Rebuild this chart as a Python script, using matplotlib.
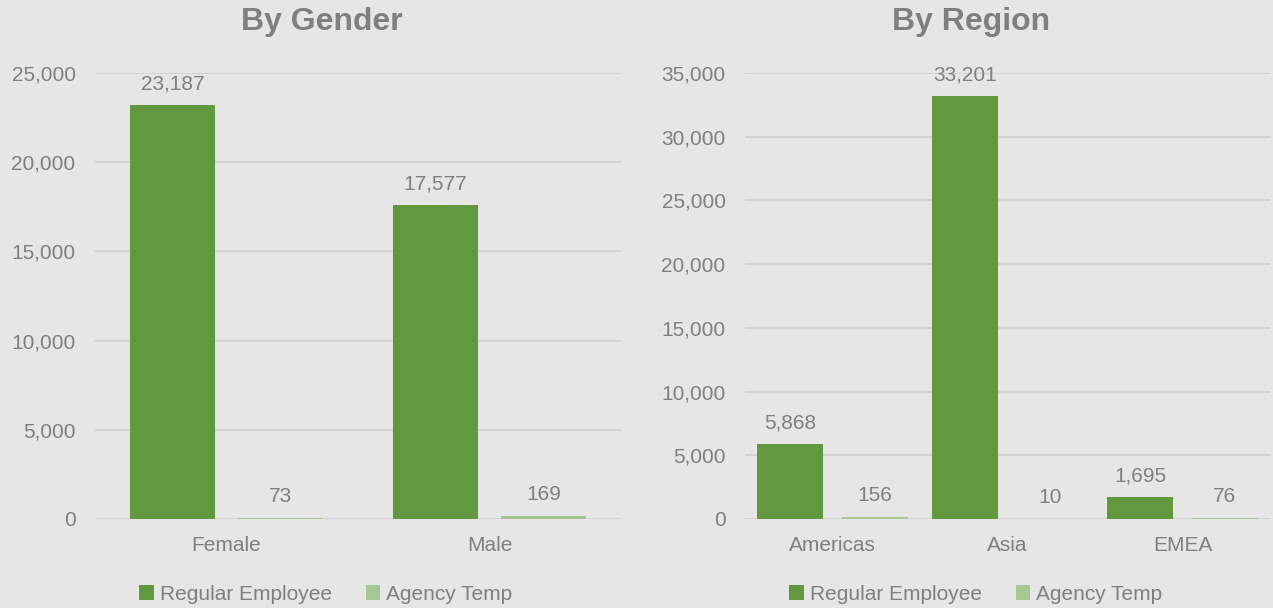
import matplotlib
matplotlib.use("Agg")
from matplotlib import pyplot as plt
from matplotlib.ticker import FuncFormatter
import numpy as np

# data
gender_cats = ["Female", "Male"]
gender_regular = [23187, 17577]
gender_agency = [73, 169]

region_cats = ["Americas", "Asia", "EMEA"]
region_regular = [5868, 33201, 1695]
region_agency = [156, 10, 76]

series_names = ["Regular Employee", "Agency Temp"]

BG = "#e6e6e6"
GREEN = "#62993e"
LIGHT = "#a5c893"
TXT = "#7f7f7f"
GRID = "#d0d0d0"

plt.rcParams["font.family"] = ["Liberation Sans", "DejaVu Sans"]


def draw_panel(ax, cats, regular, agency, ymax, step, width, offset):
    x = np.arange(len(cats))
    ax.set_facecolor(BG)
    b1 = ax.bar(x - offset, regular, width, color=GREEN, label=series_names[0], zorder=3)
    b2 = ax.bar(x + offset, agency, width, color=LIGHT, label=series_names[1], zorder=3)
    for bars in (b1, b2):
        for rect in bars:
            h = rect.get_height()
            ax.annotate(f"{h:,.0f}", (rect.get_x() + rect.get_width() / 2, h),
                        xytext=(0, 8.5), textcoords="offset points",
                        ha="center", va="bottom", fontsize=15, color=TXT)
    ax.set_xlim(-0.5, len(cats) - 0.5)
    ax.set_ylim(0, ymax)
    ax.set_yticks(np.arange(0, ymax + 1, step))
    ax.yaxis.set_major_formatter(FuncFormatter(lambda v, p: f"{v:,.0f}"))
    ax.set_xticks(x)
    ax.set_xticklabels(cats)
    ax.tick_params(axis="both", length=0, labelsize=15, colors=TXT)
    ax.tick_params(axis="y", pad=14)
    ax.tick_params(axis="x", pad=12)
    ax.grid(axis="y", color=GRID, linewidth=1.3, zorder=0)
    for s in ax.spines.values():
        s.set_visible(False)


fig = plt.figure(figsize=(12.73, 6.08), dpi=100, facecolor=BG)
ax1 = fig.add_axes([95 / 1273, 89 / 608, 526 / 1273, 446 / 608])
ax2 = fig.add_axes([745 / 1273, 89 / 608, 525 / 1273, 446 / 608])

draw_panel(ax1, gender_cats, gender_regular, gender_agency,
           25000, 5000, 0.325, 0.205)
draw_panel(ax2, region_cats, region_regular, region_agency,
           35000, 5000, 0.377, 0.242)

for ax, title, cx, lx in ((ax1, "By Gender", 322, 326), (ax2, "By Region", 971, 976)):
    fig.text(cx / 1273, 1 - 22 / 608, title, ha="center", va="center",
             fontsize=23, fontweight="bold", color=TXT)
    h, l = ax.get_legend_handles_labels()
    fig.legend(h, l, loc="center", bbox_to_anchor=(lx / 1273, 1 - 594 / 608), ncol=2,
               frameon=False, fontsize=15, labelcolor=TXT,
               handlelength=0.7, handleheight=0.7, handletextpad=0.3,
               columnspacing=1.6, borderpad=0)

fig.savefig("out.png", dpi=100, facecolor=BG)
